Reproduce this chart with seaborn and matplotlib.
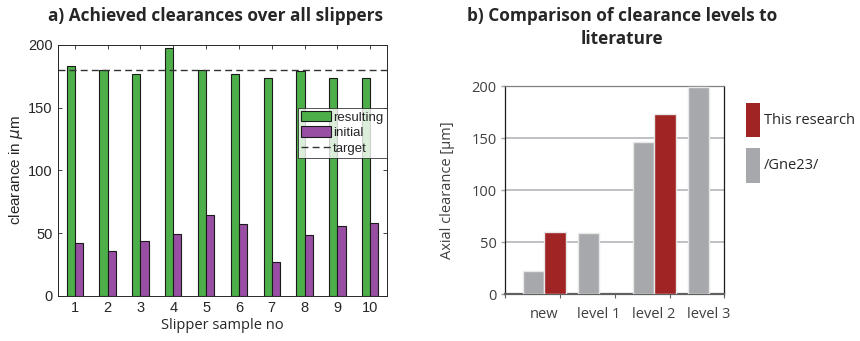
import numpy as np
import pandas as pd
import matplotlib
matplotlib.use("Agg")
import matplotlib.pyplot as plt
import seaborn as sns
from matplotlib.patches import Patch
from matplotlib.lines import Line2D

# ---------------- data ----------------
samples = [1, 2, 3, 4, 5, 6, 7, 8, 9, 10]
resulting = [183, 180, 176.5, 198, 180, 177, 174, 179, 174, 174]
initial = [42, 35.5, 44, 49, 64.5, 57, 26.5, 48.5, 55.5, 58]
target = 180

levels = ["new", "level 1", "level 2", "level 3"]
gne23 = [22, 59, 146, 199]
this_research = [60, np.nan, 173, np.nan]

# ---------------- style ----------------
sns.set_theme(style="white")
plt.rcParams['font.family'] = ['Open Sans', 'DejaVu Sans']
SANS_A = ['Liberation Sans', 'DejaVu Sans']

fig = plt.figure(figsize=(8.6, 3.41), dpi=100)
W, H = 860, 341

def ax_rect(l, t, r, b):
    return [l / W, 1 - b / H, (r - l) / W, (b - t) / H]

# ---------------- panel a ----------------
axa = fig.add_axes(ax_rect(58.3, 45, 386.7, 295.7))
dfa = pd.DataFrame({
    "sample": samples * 2,
    "value": resulting + initial,
    "series": ["resulting"] * len(samples) + ["initial"] * len(samples),
})
pal_a = {"resulting": "#4DAF4A", "initial": "#984EA3"}
sns.barplot(data=dfa, x="sample", y="value", hue="series",
            hue_order=["resulting", "initial"], palette=pal_a, saturation=1,
            width=0.5, edgecolor="#1a1a1a", linewidth=0.8, ax=axa,
            legend=False)
axa.axhline(target, color="#333333", linestyle=(0, (5, 3)), linewidth=1.0)
axa.set_xlim(-0.5, 9.5)
axa.set_ylim(0, 200)
axa.set_yticks([0, 50, 100, 150, 200])
axa.set_xticks(range(len(samples)))
axa.set_xticklabels([str(s) for s in samples])
axa.tick_params(axis="both", direction="in", length=3, width=0.6,
                color="#262626", top=True, right=True, bottom=True, left=True,
                pad=4, labelsize=10.5, labelcolor="#262626",
                labelfontfamily='Liberation Sans')
for sp in axa.spines.values():
    sp.set_visible(True)
    sp.set_color("#262626")
    sp.set_linewidth(0.7)
axa.set_xlabel("Slipper sample no", fontsize=10.5, color="#262626", labelpad=2)
axa.set_ylabel(r"clearance in $\mu$m", fontsize=11, color="#262626",
               family=SANS_A, labelpad=2)
fig.text(215 / W, 1 - 16 / H, "a) Achieved clearances over all slippers",
         ha="center", va="center", fontsize=12.4, fontweight="bold",
         color="#262626")
handles_a = [Patch(facecolor=pal_a["resulting"], edgecolor="#1a1a1a", linewidth=0.8),
             Patch(facecolor=pal_a["initial"], edgecolor="#1a1a1a", linewidth=0.8),
             Line2D([0], [0], color="#333333", linestyle=(0, (5, 3)), linewidth=1.0)]
lega = axa.legend(handles_a, ["resulting", "initial", "target"],
                  loc="upper right", bbox_to_anchor=(1.0, 0.75),
                  prop={'family': SANS_A, 'size': 9.5},
                  frameon=True, fancybox=False, edgecolor="#262626",
                  handlelength=2.3, handleheight=0.85, handletextpad=0.15,
                  labelspacing=0.2, borderpad=0.25, borderaxespad=0.0)
lega.get_frame().set_linewidth(0.7)

# ---------------- panel b ----------------
axb = fig.add_axes(ax_rect(505, 86, 724, 294))
dfb = pd.DataFrame({
    "level": levels * 2,
    "value": gne23 + this_research,
    "source": ["/Gne23/"] * len(levels) + ["This research"] * len(levels),
}).dropna()
colors_b = {"/Gne23/": "#A7A8AB", "This research": "#A02424"}
sns.barplot(data=dfb, x="level", y="value", hue="source",
            order=levels, hue_order=["/Gne23/", "This research"],
            palette=colors_b, saturation=1, width=0.78, edgecolor="#E8E8E8",
            linewidth=1.0, ax=axb, legend=False, zorder=3)
axb.set_xlim(-0.71, 3.27)
axb.set_ylim(0, 200)
axb.set_yticks([0, 50, 100, 150, 200])
axb.yaxis.grid(True, color="#B4B4BA", linewidth=1.2)
axb.set_axisbelow(True)
axb.set_xticks(range(len(levels)))
axb.set_xticklabels(levels)
axb.set_xticks([-0.71, 0.29, 1.29, 2.29, 3.27], minor=True)
axb.tick_params(axis="x", which="major", length=0, pad=9, labelsize=10.5,
                labelcolor="#404040")
axb.tick_params(axis="x", which="minor", length=3, width=0.8, color="#606060",
                bottom=True, direction="out")
axb.tick_params(axis="y", which="major", length=3, width=1.0, color="#A0A0A8",
                left=True, direction="out", labelsize=10.5, labelcolor="#404040",
                pad=3)
for name, sp in axb.spines.items():
    sp.set_visible(True)
    sp.set_color("#1a1a1a")
    sp.set_linewidth(0.9)
axb.spines["top"].set_color("#808080")
axb.spines["bottom"].set_color("#606060")
axb.spines["bottom"].set_linewidth(1.6)
axb.set_xlabel("")
axb.set_ylabel("Axial clearance [µm]", fontsize=10.5, color="#404040", labelpad=12)
fig.text(622 / W, 1 - 16 / H, "b) Comparison of clearance levels to",
         ha="center", va="center", fontsize=12.4, fontweight="bold",
         color="#262626")
fig.text(622 / W, 1 - 39 / H, "literature", ha="center", va="center",
         fontsize=12.4, fontweight="bold", color="#262626")
handles_b = [Patch(facecolor=colors_b["This research"], edgecolor="none"),
             Patch(facecolor=colors_b["/Gne23/"], edgecolor="none")]
legb = axb.legend(handles_b, ["This research", "/Gne23/"],
                  loc="upper left", bbox_to_anchor=(1.0 + 22 / 219, 0.92),
                  fontsize=10.5, frameon=False, handlelength=0.95,
                  handleheight=3.3, handletextpad=0.25, labelspacing=0.7,
                  borderaxespad=0.0, borderpad=0.0,
                  labelcolor="#262626")

fig.savefig("out.png", dpi=100)
